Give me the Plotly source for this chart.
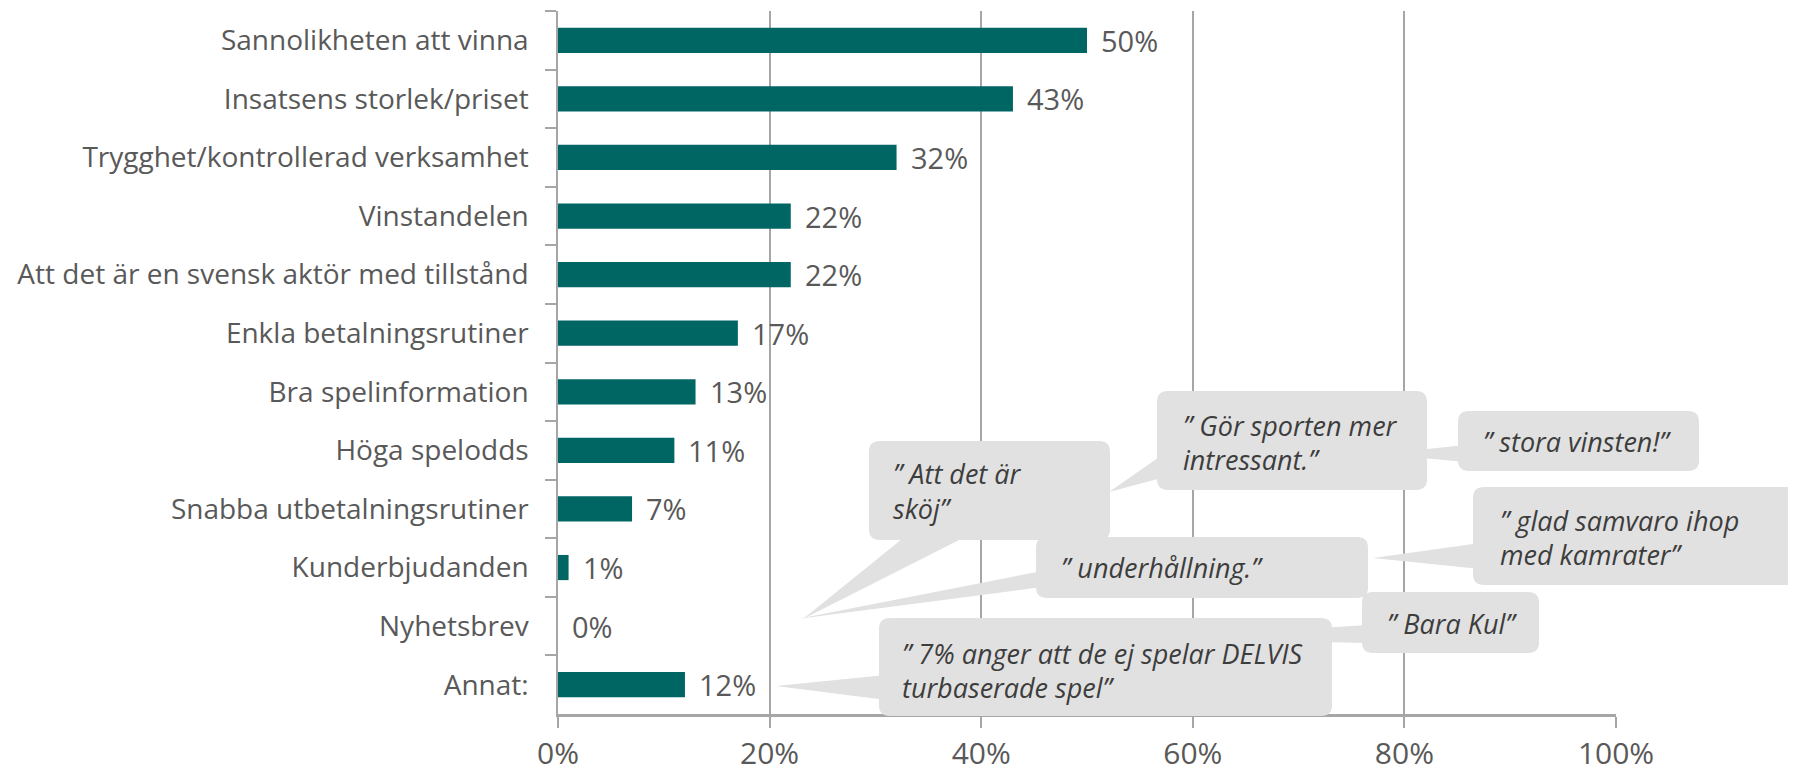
import plotly.graph_objects as go

# ---------------- data ----------------
categories = [
    "Sannolikheten att vinna",
    "Insatsens storlek/priset",
    "Trygghet/kontrollerad verksamhet",
    "Vinstandelen",
    "Att det är en svensk aktör med tillstånd",
    "Enkla betalningsrutiner",
    "Bra spelinformation",
    "Höga spelodds",
    "Snabba utbetalningsrutiner",
    "Kunderbjudanden",
    "Nyhetsbrev",
    "Annat:",
]
values = [0.50, 0.43, 0.32, 0.22, 0.22, 0.17, 0.13, 0.11, 0.07, 0.01, 0.00, 0.12]
x_tick_vals = [0, 0.2, 0.4, 0.6, 0.8, 1.0]
x_tick_text = ["0%", "20%", "40%", "60%", "80%", "100%"]

quote_att = ["\u201d Att det är", "sköj\u201d"]
quote_gor = ["\u201d Gör sporten mer", "intressant.\u201d"]
quote_stora = ["\u201d stora vinsten!\u201d"]
quote_glad = ["\u201d glad samvaro ihop", "med kamrater\u201d"]
quote_underh = ["\u201d underhållning.\u201d"]
quote_bara = ["\u201d Bara Kul\u201d"]
quote_annat = ["\u201d 7% anger att de ej spelar DELVIS", "turbaserade spel\u201d"]

# ---------------- layout geometry (screen pixels) ----------------
OFF = 8                      # page body margin
W, H = 1788, 760             # figure size
PLOT_X0, PLOT_X1 = 558, 1616  # screen px of 0% and 100%
PLOT_Y0, PLOT_Y1 = 11, 714    # screen px of plot top / bottom
L = PLOT_X0 - OFF
R = W - (PLOT_X1 - OFF)
T = PLOT_Y0 - OFF
B = H - (PLOT_Y1 - OFF)
PW = PLOT_X1 - PLOT_X0
PH = PLOT_Y1 - PLOT_Y0

def px(xs):
    return (xs - PLOT_X0) / PW

def py(ys):
    return (PLOT_Y1 - ys) / PH

BAR_COLOR = "#006663"
BUBBLE = "#e1e1e1"
TEXT = "#595959"
QTEXT = "#3d3d3d"
AXIS = "#a6a6a6"
FONT = "Open Sans"

def path_from(points):
    s = ""
    for cmd, pts in points:
        s += cmd + " " + " ".join(f"{px(a):.5f},{py(b):.5f}" for a, b in pts) + " "
    return s + "Z"

def rrect(x0, x1, y0, y1, r=11):
    pts = [
        ("M", [(x0 + r, y0)]),
        ("L", [(x1 - r, y0)]),
        ("Q", [(x1, y0), (x1, y0 + r)]),
        ("L", [(x1, y1 - r)]),
        ("Q", [(x1, y1), (x1 - r, y1)]),
        ("L", [(x0 + r, y1)]),
        ("Q", [(x0, y1), (x0, y1 - r)]),
        ("L", [(x0, y0 + r)]),
        ("Q", [(x0, y0), (x0 + r, y0)]),
    ]
    return path_from(pts)

def poly(points):
    pts = [("M", [points[0]])] + [("L", [p]) for p in points[1:]]
    return path_from(pts)

# bubble boxes: (x0, x1, y0, y1), text left, line centers, lines
bubbles = [
    ((869, 1110, 441, 540), 891, [473, 508], quote_att),
    ((1157, 1427, 391, 490), 1181, [425, 459], quote_gor),
    ((1458, 1699, 411, 471), 1481, [441], quote_stora),
    ((1473, 1820, 487, 585), 1498, [520, 554], quote_glad),
    ((1036, 1368, 537, 598), 1059, [567], quote_underh),
    ((1362, 1539, 592, 653), 1385, [623], quote_bara),
    ((879, 1332, 618, 716), 900, [653, 687], quote_annat),
]
tails = [
    [(907, 535), (969, 535), (803, 619)],
    [(1042, 571), (1042, 587), (797, 619)],
    [(1165, 453), (1165, 477), (1109, 492)],
    [(1465, 445), (1465, 462), (1380, 454)],
    [(1480, 543), (1480, 569), (1373, 558)],
    [(1368, 625), (1368, 643), (1320, 642), (1320, 628)],
    [(886, 675), (886, 700), (776, 686)],
]

fig = go.Figure()
fig.add_trace(go.Bar(
    x=values, y=categories, orientation="h",
    marker=dict(color=BAR_COLOR, line=dict(width=0)),
    hoverinfo="skip",
))

annotations = []
for c, v in zip(categories, values):
    annotations.append(dict(
        x=v, y=c, xref="x", yref="y", text=f"{round(v * 100)}%",
        xanchor="left", yanchor="middle", xshift=12, showarrow=False,
        font=dict(family=FONT, size=29, color=TEXT),
    ))

shapes = []
for t in tails:
    shapes.append(dict(type="path", xref="paper", yref="paper", path=poly(t),
                       fillcolor=BUBBLE, line=dict(width=0), layer="above"))
for (box, tx, ys, lines) in bubbles:
    x0, x1, y0, y1 = box
    shapes.append(dict(type="path", xref="paper", yref="paper", path=rrect(x0, x1, y0, y1),
                       fillcolor=BUBBLE, line=dict(width=0), layer="above"))
    for yc, line in zip(ys, lines):
        annotations.append(dict(
            x=px(tx), y=py(yc), xref="paper", yref="paper", text=f"<i>{line}</i>",
            xanchor="left", yanchor="middle", showarrow=False,
            font=dict(family=FONT, size=27, color=QTEXT),
        ))

fig.update_layout(
    width=W, height=H,
    margin=dict(l=L, r=R, t=T, b=B, pad=0, autoexpand=False),
    paper_bgcolor="white", plot_bgcolor="white",
    showlegend=False,
    bargap=0.57,
    font=dict(family=FONT, size=28, color=TEXT),
    shapes=shapes,
    annotations=annotations,
)
fig.update_xaxes(
    range=[0, 1], tickvals=x_tick_vals, ticktext=x_tick_text,
    showgrid=True, gridcolor=AXIS, gridwidth=1.5,
    showline=True, linecolor=AXIS, linewidth=3,
    ticks="outside", ticklen=11, tickcolor=AXIS, tickwidth=1.5,
    tickfont=dict(family=FONT, size=30, color=TEXT),
    ticklabelstandoff=0,
    zeroline=False, fixedrange=True, automargin=False,
)
fig.update_yaxes(
    autorange="reversed", type="category",
    showgrid=False, showline=True, linecolor=AXIS, linewidth=1.5,
    ticks="outside", ticklen=11, tickcolor=AXIS, tickwidth=1.5,
    tickson="boundaries",
    tickfont=dict(family=FONT, size=28, color=TEXT),
    ticklabelstandoff=22,
    fixedrange=True, automargin=False,
)

fig.write_html("out.html")
